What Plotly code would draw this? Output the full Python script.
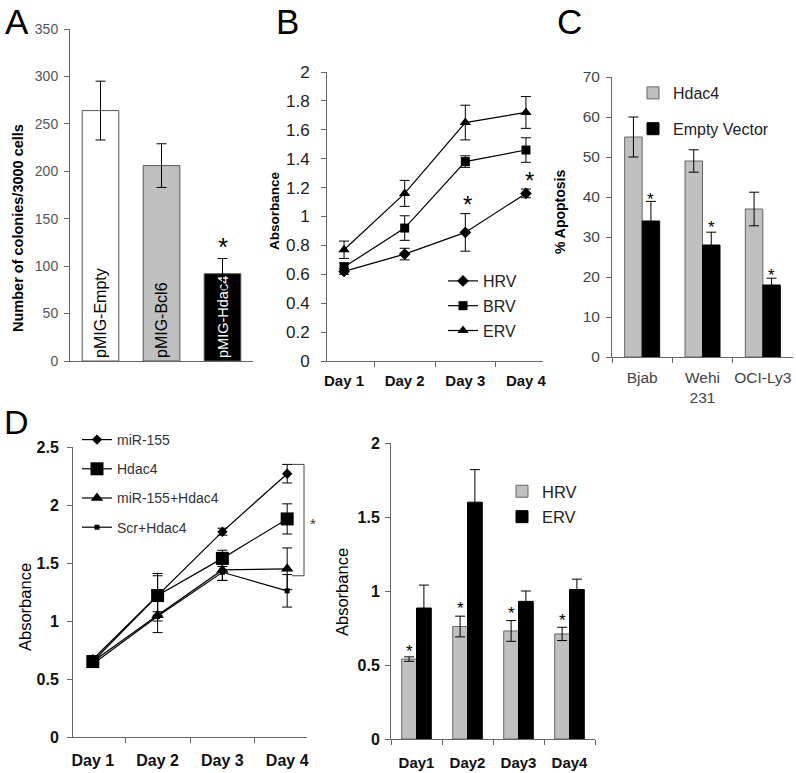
import plotly.graph_objects as go

# ---------------- data ----------------
A_labels = ["pMIG-Empty", "pMIG-Bcl6", "pMIG-Hdac4"]
A_values = [264, 206, 92]
A_err = [31, 23, 16]

B_days = ["Day 1", "Day 2", "Day 3", "Day 4"]
B_HRV = [0.62, 0.74, 0.89, 1.16]
B_HRV_err = [0.02, 0.04, 0.13, 0.03]
B_BRV = [0.65, 0.92, 1.38, 1.46]
B_BRV_err = [0.03, 0.085, 0.04, 0.085]
B_ERV = [0.77, 1.16, 1.65, 1.72]
B_ERV_err = [0.06, 0.09, 0.12, 0.11]

C_cells = ["Bjab", "Wehi<br>231", "OCI-Ly3"]
C_hdac4 = [55, 49, 37]
C_hdac4_err = [5, 2.8, 4.2]
C_empty = [34, 28, 18]
C_empty_err = [4.9, 3.2, 1.7]

D_days = ["Day 1", "Day 2", "Day 3", "Day 4"]
D_mir155 = [0.67, 1.22, 1.77, 2.27]
D_mir155_err = [0.03, 0.17, 0.03, 0.08]
D_hdac4 = [0.65, 1.22, 1.54, 1.88]
D_hdac4_err = [0.05, 0.19, 0.07, 0.13]
D_combo = [0.65, 1.05, 1.44, 1.45]
D_combo_err = [0.04, 0.15, 0.09, 0.18]
D_scr = [0.63, 1.04, 1.42, 1.26]
D_scr_err = [0.03, 0.04, 0.07, 0.14]

E_days = ["Day1", "Day2", "Day3", "Day4"]
E_HRV = [0.54, 0.76, 0.73, 0.71]
E_HRV_err = [0.015, 0.07, 0.07, 0.045]
E_ERV = [0.885, 1.60, 0.93, 1.01]
E_ERV_err = [0.155, 0.22, 0.07, 0.07]

# ---------------- helpers ----------------
W, H = 796, 773
def px(x):
    return x / W
def py(y):
    return 1 - y / H

FONT = "Liberation Sans, Arial, sans-serif"
GRAY = "#c0c0c0"
AXC = "#666666"

def err(arr, w=4):
    return dict(type="data", array=arr, color="black", thickness=1, width=w, visible=True)

fig = go.Figure()

# ---------------- panel A ----------------
fig.add_trace(go.Bar(
    x=A_labels, y=A_values, width=0.6,
    marker=dict(color=["white", GRAY, "black"], line=dict(color="#555555", width=1)),
    text=A_labels, textposition="inside", insidetextanchor="start", textangle=-90,
    constraintext="none",
    textfont=dict(family=FONT, size=[16, 16, 14.5], color=["black", "black", "white"]),
    error_y=err(A_err, 5), xaxis="x", yaxis="y", showlegend=False, hoverinfo="skip"))

# ---------------- panel B ----------------
line_kw = dict(color="black", width=1.2)
for name, vals, e, sym, sz in [("HRV", B_HRV, B_HRV_err, "diamond", 9),
                               ("BRV", B_BRV, B_BRV_err, "square", 9),
                               ("ERV", B_ERV, B_ERV_err, "triangle-up", 10)]:
    fig.add_trace(go.Scatter(
        x=B_days, y=vals, mode="lines+markers", name=name,
        line=line_kw, marker=dict(symbol=sym, size=sz, color="black"),
        error_y=err(e, 5), xaxis="x2", yaxis="y2", legend="legend2",
        legendgroup="b" + name))

# ---------------- panel C ----------------
fig.add_trace(go.Bar(x=C_cells, y=C_hdac4, name="Hdac4",
                     marker=dict(color=GRAY, line=dict(color="#666666", width=1)),
                     error_y=err(C_hdac4_err, 5), xaxis="x3", yaxis="y3",
                     legend="legend3", legendgroup="c1"))
fig.add_trace(go.Bar(x=C_cells, y=C_empty, name="Empty Vector",
                     marker=dict(color="black", line=dict(color="black", width=1)),
                     error_y=err(C_empty_err, 5), xaxis="x3", yaxis="y3",
                     legend="legend3", legendgroup="c2"))

# ---------------- panel D left ----------------
for name, vals, e, sym, sz in [("miR-155", D_mir155, D_mir155_err, "diamond", 8),
                               ("Hdac4", D_hdac4, D_hdac4_err, "square", 13),
                               ("miR-155+Hdac4", D_combo, D_combo_err, "triangle-up", 11),
                               ("Scr+Hdac4", D_scr, D_scr_err, "square", 5)]:
    fig.add_trace(go.Scatter(
        x=D_days, y=vals, mode="lines+markers", name=name,
        line=line_kw, marker=dict(symbol=sym, size=sz, color="black"),
        error_y=err(e, 5), xaxis="x4", yaxis="y4", legend="legend4",
        legendgroup="d" + name))

# ---------------- panel D right ----------------
fig.add_trace(go.Bar(x=E_days, y=E_HRV, name="HRV",
                     marker=dict(color=GRAY, line=dict(color="#666666", width=1)),
                     error_y=err(E_HRV_err, 5), xaxis="x5", yaxis="y5",
                     legend="legend5", legendgroup="e1"))
fig.add_trace(go.Bar(x=E_days, y=E_ERV, name="ERV",
                     marker=dict(color="black", line=dict(color="black", width=1)),
                     error_y=err(E_ERV_err, 5), xaxis="x5", yaxis="y5",
                     legend="legend5", legendgroup="e2"))

# ---------------- axes ----------------
def xax(x0, x1, anchor, font, ticks=True, showlabels=True, standoff=3):
    return dict(domain=[px(x0), px(x1)], anchor=anchor, type="category",
                showline=True, linecolor=AXC, linewidth=1, showgrid=False, zeroline=False,
                ticks="outside" if ticks else "", tickson="boundaries", ticklen=5,
                tickcolor=AXC, showticklabels=showlabels, tickfont=font, tickangle=0,
                ticklabelstandoff=standoff, fixedrange=True, automargin=False)

def yax(y0, y1, anchor, rng, dtick, font, standoff=3):
    return dict(domain=[py(y0), py(y1)], anchor=anchor, range=rng, dtick=dtick,
                showline=True, linecolor=AXC, linewidth=1, showgrid=False, zeroline=False,
                ticks="outside", ticklen=5, tickcolor=AXC, tickfont=font,
                ticklabelstandoff=standoff, fixedrange=True, automargin=False)

fA = dict(family=FONT, size=14, color="#555555")
fB = dict(family=FONT, size=17, color="#222222")
fBx = dict(family=FONT, size=15, color="#111111", weight="bold")
fC = dict(family=FONT, size=15.5, color="#444444")
fD = dict(family=FONT, size=16, color="#111111", weight="bold")

fig.update_layout(
    xaxis=xax(70, 253, "y", fA, ticks=False, showlabels=False),
    yaxis=yax(361, 29, "x", [0, 350], 50, fA, standoff=3),
    xaxis2=xax(327, 543, "y2", fBx, standoff=6),
    yaxis2=yax(361, 72, "x2", [0, 2], 0.2, fB, standoff=8),
    xaxis3=xax(612, 793, "y3", fC, standoff=6),
    yaxis3=yax(357, 77, "x3", [0, 70], 10, fC, standoff=3),
    xaxis4=xax(73, 307, "y4", fD, standoff=9),
    yaxis4=yax(737, 447, "x4", [0, 2.5], 0.5, fD, standoff=5),
    xaxis5=xax(391, 595, "y5", dict(family=FONT, size=15, color="#111111", weight="bold"), standoff=10),
    yaxis5=yax(739, 443, "x5", [0, 2], 0.5, fD, standoff=2),
)

leg_common = dict(bgcolor="rgba(0,0,0,0)", xanchor="left", yanchor="top",
                  itemclick=False, itemdoubleclick=False)
fig.update_layout(
    legend2=dict(x=px(443), y=py(264), font=dict(family=FONT, size=16, color="#222"),
                 tracegroupgap=1, **leg_common),
    legend3=dict(x=px(633), y=py(76), font=dict(family=FONT, size=16, color="#222"),
                 tracegroupgap=12, **leg_common),
    legend4=dict(x=px(77), y=py(424), font=dict(family=FONT, size=14, color="#333"),
                 tracegroupgap=8, **leg_common),
    legend5=dict(x=px(502), y=py(474), font=dict(family=FONT, size=16.5, color="#222"),
                 tracegroupgap=1, **leg_common),
)

# ---------------- annotations ----------------
ann = []
def letter(t, x, y, size=36, anchor="middle"):
    ann.append(dict(text=t, x=px(x), y=py(y), xref="paper", yref="paper",
                    xanchor="left", yanchor=anchor, showarrow=False,
                    font=dict(family=FONT, size=size, color="black")))
letter("A", 3, 0, 35, "top")
letter("B", 274, 0, 35, "top")
letter("C", 555, 0, 35, "top")
letter("D", 2, 422, 34)

def ytitle(t, x, y, size, bold):
    f = dict(family=FONT, size=size, color="black")
    if bold:
        f["weight"] = "bold"
    ann.append(dict(text=t, x=px(x), y=py(y), xref="paper", yref="paper",
                    xanchor="center", yanchor="middle", textangle=-90, showarrow=False, font=f))
ytitle("Number of colonies/3000 cells", 18, 228, 14.5, True)
ytitle("Absorbance", 275, 211, 13.5, True)
ytitle("% Apoptosis", 560, 212, 14, True)
ytitle("Absorbance", 25, 607, 16.5, False)
ytitle("Absorbance", 342, 592, 16.5, False)

def star(x, y, xr, yr, size=22, xs=0):
    ann.append(dict(text="*", x=x, y=y, xref=xr, yref=yr, xanchor="center",
                    yanchor="middle", xshift=xs, showarrow=False,
                    font=dict(family=FONT, size=size, color="black")))
star(A_labels[2], 120, "x", "y", 26)
star(B_days[2], 1.08, "x2", "y2", 24, 2)
star(B_days[3], 1.25, "x2", "y2", 24, 4)
for i, v in enumerate([39.5, 32.5, 20.5]):
    star(C_cells[i], v, "x3", "y3", 17, 8.7)
for i, v in enumerate([0.56, 0.85, 0.82, 0.77]):
    star(E_days[i], v + 0.03, "x5", "y5", 17, -7.5)
# bracket star panel D
ann.append(dict(text="*", x=px(313), y=1.84, xref="paper", yref="y4", showarrow=False,
                xanchor="center", yanchor="middle", font=dict(family=FONT, size=15, color="#333")))

shapes = [
    dict(type="line", xref="paper", yref="y4", x0=px(304), x1=px(304), y0=2.35, y1=1.39,
         line=dict(color="#444", width=1)),
    dict(type="line", xref="paper", yref="y4", x0=px(292), x1=px(304), y0=2.35, y1=2.35,
         line=dict(color="#444", width=1)),
    dict(type="line", xref="paper", yref="y4", x0=px(292), x1=px(304), y0=1.39, y1=1.39,
         line=dict(color="#444", width=1)),
]

fig.update_layout(
    annotations=ann, shapes=shapes,
    width=W, height=H, autosize=False,
    margin=dict(l=0, r=0, t=0, b=0, autoexpand=False),
    paper_bgcolor="white", plot_bgcolor="white",
    barmode="group", bargap=0.42, bargroupgap=0,
    font=dict(family=FONT),
)

fig.write_html("out.html", config={"displayModeBar": False},
               post_script="document.body.style.margin='0px';document.body.style.padding='0px';")
